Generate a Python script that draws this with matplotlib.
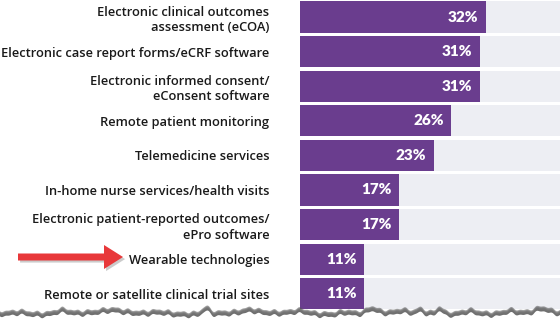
import numpy as np
import matplotlib
matplotlib.use("Agg")
import matplotlib.pyplot as plt
from matplotlib.patches import Polygon, FancyArrow
import matplotlib.patheffects as pe

categories = [
    "Electronic clinical outcomes\nassessment (eCOA)",
    "Electronic case report forms/eCRF software",
    "Electronic informed consent/\neConsent software",
    "Remote patient monitoring",
    "Telemedicine services",
    "In-home nurse services/health visits",
    "Electronic patient-reported outcomes/\nePro software",
    "Wearable technologies",
    "Remote or satellite clinical trial sites",
]
values = [32, 31, 31, 26, 23, 17, 17, 11, 11]
value_labels = ["32%", "31%", "31%", "26%", "23%", "17%", "17%", "11%", "11%"]

W, H = 560, 324
DPI = 100
PURPLE = "#6a3d8e"
TRACK = "#edeef3"
TEXT = "#1a1a1a"

fig = plt.figure(figsize=(W / DPI, H / DPI), dpi=DPI)
fig.patch.set_facecolor("white")

pitch = 34.6
top_off = 17.0
ax = fig.add_axes([300 / W, 0, 1 - 300 / W, 1])
ax.set_xlim(0, 44.75)
ax.set_ylim((H - top_off) / pitch, -top_off / pitch)

y = np.arange(len(categories))
ax.barh(y, [44.75] * len(y), height=0.9, color=TRACK, zorder=1)
ax.barh(y, values, height=0.9, color=PURPLE, zorder=2)

for yi, v, lab in zip(y, values, value_labels):
    ax.text(v - 1.3, yi, lab, ha="right", va="center", color="white",
            fontsize=11, fontweight="heavy", family="Lato", zorder=3)

ax.set_yticks(y)
ax.set_yticklabels(categories, fontsize=9.3, family="Open Sans",
                   fontweight="semibold", color=TEXT, ha="right",
                   linespacing=1.25)
ax.tick_params(axis="y", length=0, pad=22)
ax.tick_params(axis="x", length=0, labelbottom=False)
for s in ax.spines.values():
    s.set_visible(False)

# red pointer arrow
arrow = FancyArrow(18 / W, 1 - 257 / H, 104 / W - 18 / W, 0,
                   width=7 / H, head_width=24 / H, head_length=19 / W,
                   length_includes_head=False, transform=fig.transFigure,
                   color="#e8383a", lw=0, zorder=10)
arrow.set_path_effects([pe.SimplePatchShadow(offset=(1.5, -1.5), shadow_rgbFace="#999999", alpha=0.5),
                        pe.Normal()])
fig.add_artist(arrow)

# torn paper edge along the bottom
xs = np.linspace(0, W, 700)
bumps = [(20, 2.0, 10), (62, 3.5, 9), (112, 2.5, 14), (160, 2.0, 12),
         (206, 5.5, 5), (250, 2.5, 10), (300, 3.0, 12), (345, 2.0, 8),
         (372, 4.5, 7), (402, 2.0, 6), (420, 3.0, 5), (440, 5.5, 4),
         (470, 3.5, 10), (510, 2.5, 8), (542, 4.0, 9)]
edge = 311 + 0.8 * np.sin(xs / 2.1) + 0.6 * np.sin(xs / 1.3 + 0.7) + 1.0 * np.sin(xs / 23.0)
for cx, amp, wd in bumps:
    edge = edge - amp * np.exp(-((xs - cx) / wd) ** 2)
fx = xs / W
for k, a in enumerate([0.55, 0.4, 0.26, 0.15, 0.07]):
    pts = np.column_stack([fx, 1 - (edge + k) / H])
    pts = np.vstack([pts, [[1, 0], [0, 0]]])
    fig.add_artist(Polygon(pts, closed=True, transform=fig.transFigure,
                           facecolor="#555555", alpha=a, lw=0, zorder=20 + k))
pts = np.column_stack([fx, 1 - (edge + 5) / H])
pts = np.vstack([pts, [[1, 0], [0, 0]]])
fig.add_artist(Polygon(pts, closed=True, transform=fig.transFigure,
                       facecolor="white", lw=0, zorder=30))

fig.savefig("out.png", dpi=DPI)
